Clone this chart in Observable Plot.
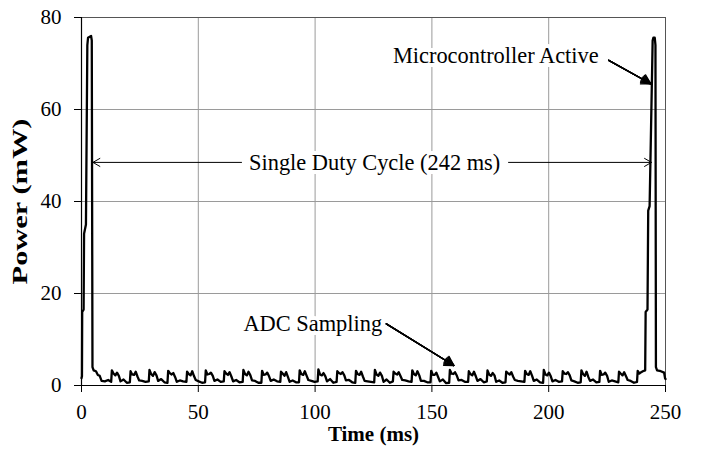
<!DOCTYPE html>
<html>
<head>
<meta charset="utf-8">
<script src="https://cdn.jsdelivr.net/npm/d3@7"></script>
<script src="https://cdn.jsdelivr.net/npm/@observablehq/plot@0.6"></script>
<style>
  html, body { margin: 0; padding: 0; background: white; }
</style>
</head>
<body>
<div id="chart"></div>
<script>
// ---- Data ----
const xTicks = [0, 50, 100, 150, 200, 250];
const yTicks = [0, 20, 40, 60, 80];

// Time (ms) of each trace sample
const timeMs = [
  0, 0.2, 0.3, 0.9, 1.1, 1.9, 2.5, 2.8, 4.1, 4.4, 4.7, 5.2, 6.2, 7.0, 7.8, 8.6, 10.0, 11.4,
  12.7, 13.0, 13.7, 14.5, 15.2, 16.0, 16.7, 18.0, 19.4,
  20.7, 21.0, 21.7, 22.5, 23.2, 24.0, 24.7, 26.0, 27.4,
  28.8, 29.1, 29.8, 30.6, 31.3, 32.1, 32.8, 34.1, 35.5,
  36.8, 37.1, 37.8, 38.6, 39.3, 40.1, 40.8, 42.1, 43.5,
  44.9, 45.2, 45.9, 46.7, 47.4, 48.2, 48.9, 50.2, 51.6,
  52.9, 53.2, 53.9, 54.7, 55.4, 56.2, 56.9, 58.2, 59.6,
  60.9, 61.2, 61.9, 62.7, 63.4, 64.2, 64.9, 66.2, 67.6,
  69.0, 69.3, 70.0, 70.8, 71.5, 72.3, 73.0, 74.3, 75.7,
  77.0, 77.3, 78.0, 78.8, 79.5, 80.3, 81.0, 82.3, 83.7,
  85.1, 85.4, 86.1, 86.9, 87.6, 88.4, 89.1, 90.4, 91.8,
  93.1, 93.4, 94.1, 94.9, 95.6, 96.4, 97.1, 98.4, 99.8,
  101.1, 101.4, 102.1, 102.9, 103.6, 104.4, 105.1, 106.4, 107.8,
  109.2, 109.5, 110.2, 111.0, 111.7, 112.5, 113.2, 114.5, 115.9,
  117.2, 117.5, 118.2, 119.0, 119.7, 120.5, 121.2, 122.5, 123.9,
  125.3, 125.6, 126.3, 127.1, 127.8, 128.6, 129.3, 130.6, 132.0,
  133.3, 133.6, 134.3, 135.1, 135.8, 136.6, 137.3, 138.6, 140.0,
  141.3, 141.6, 142.3, 143.1, 143.8, 144.6, 145.3, 146.6, 148.0,
  149.4, 149.7, 150.4, 151.2, 151.9, 152.7, 153.4, 154.7, 156.1,
  157.4, 157.7, 158.4, 159.2, 159.9, 160.7, 161.4, 162.7, 164.1,
  165.5, 165.8, 166.5, 167.3, 168.0, 168.8, 169.5, 170.8, 172.2,
  173.5, 173.8, 174.5, 175.3, 176.0, 176.8, 177.5, 178.8, 180.2,
  181.5, 181.8, 182.5, 183.3, 184.0, 184.8, 185.5, 186.8, 188.2,
  189.6, 189.9, 190.6, 191.4, 192.1, 192.9, 193.6, 194.9, 196.3,
  197.6, 197.9, 198.6, 199.4, 200.1, 200.9, 201.6, 202.9, 204.3,
  205.7, 206.0, 206.7, 207.5, 208.2, 209.0, 209.7, 211.0, 212.4,
  213.7, 214.0, 214.7, 215.5, 216.2, 217.0, 217.7, 219.0, 220.4,
  221.7, 222.0, 222.7, 223.5, 224.2, 225.0, 225.7, 227.0, 228.4,
  229.8, 230.1, 230.8, 231.6, 232.3, 233.1, 233.8, 235.1, 236.5,
  237.8, 238.1, 238.8, 239.6, 240.3,
  241.3, 241.5, 242.3, 242.6, 243.2, 244.5, 244.8, 245.4, 245.7, 245.9, 246.4, 248.0, 249.4, 249.8, 250
];

// Power (mW) of each trace sample
const powerMw = [
  1.6, 2.0, 16.0, 16.5, 33.0, 35.0, 74.0, 75.6, 76.0, 75.0, 4.0, 3.3, 3.1, 2.3, 2.1, 1.0, 0.9, 1.2,
  0.8, 3.3, 2.6, 2.2, 2.8, 2.1, 0.9, 1.3, 0.6,
  0.7, 3.1, 2.4, 2.3, 3.0, 1.9, 1.1, 1.0, 0.8,
  0.9, 3.4, 2.5, 2.1, 2.9, 2.2, 1.0, 1.4, 0.7,
  0.6, 3.2, 2.7, 2.4, 2.7, 1.8, 0.8, 1.1, 0.9,
  0.8, 3.0, 2.5, 2.2, 3.1, 2.0, 1.2, 0.9, 0.6,
  0.7, 3.3, 2.4, 2.5, 2.8, 2.1, 1.0, 1.3, 0.8,
  0.9, 3.1, 2.6, 2.3, 2.9, 1.9, 0.9, 1.2, 0.7,
  0.8, 3.4, 2.5, 2.2, 3.0, 2.2, 1.1, 1.0, 0.6,
  0.6, 3.2, 2.3, 2.4, 2.8, 2.0, 1.0, 1.3, 0.9,
  0.8, 3.0, 2.6, 2.1, 2.9, 1.8, 0.8, 1.1, 0.7,
  0.7, 3.3, 2.5, 2.3, 3.1, 2.1, 1.2, 1.0, 0.8,
  0.9, 3.5, 2.4, 2.2, 2.7, 2.0, 0.9, 1.4, 0.6,
  0.8, 3.1, 2.7, 2.5, 2.9, 2.2, 1.1, 1.2, 0.7,
  0.6, 3.2, 2.5, 2.3, 3.0, 1.9, 1.0, 0.9, 0.8,
  0.7, 3.4, 2.4, 2.1, 2.8, 2.1, 0.8, 1.3, 0.6,
  0.9, 3.0, 2.6, 2.4, 2.9, 2.0, 1.2, 1.1, 0.9,
  0.8, 3.3, 2.5, 2.2, 3.1, 2.2, 1.0, 1.0, 0.7,
  0.7, 3.2, 2.3, 2.3, 2.8, 1.8, 0.9, 1.3, 0.5,
  0.6, 3.4, 2.6, 2.5, 2.9, 2.1, 1.1, 1.2, 0.8,
  0.8, 3.1, 2.5, 2.2, 3.0, 2.0, 1.0, 1.4, 0.7,
  0.9, 3.3, 2.4, 2.1, 2.7, 2.2, 0.8, 1.1, 0.6,
  0.7, 3.0, 2.7, 2.4, 2.9, 1.9, 1.2, 1.0, 0.9,
  0.8, 3.2, 2.5, 2.3, 3.1, 2.1, 1.0, 1.3, 0.7,
  0.6, 3.4, 2.4, 2.2, 2.8, 2.0, 0.9, 1.2, 0.8,
  0.9, 3.1, 2.6, 2.5, 2.9, 2.2, 1.1, 0.9, 0.6,
  0.7, 3.3, 2.5, 2.1, 3.0, 1.8, 1.0, 1.3, 0.7,
  0.8, 3.2, 2.3, 2.4, 2.8, 2.1, 0.8, 1.1, 0.9,
  0.7, 3.0, 2.6, 2.2, 2.9, 2.0, 1.2, 1.0, 0.6,
  0.8, 3.2, 2.6, 2.9, 3.1,
  3.3, 16.0, 16.5, 38.0, 39.0, 75.0, 75.6, 75.6, 74.0, 4.0, 3.3, 3.1, 2.8, 1.6, 1.4
];

// Annotation texts and their anchor positions (data units)
const noteLabels = ["Single Duty Cycle (242 ms)", "Microcontroller Active", "ADC Sampling"];
const noteTime   = [125.5, 221.4, 128.7];
const notePower  = [48.5, 71.7, 13.5];
const noteAnchor = ["middle", "end", "end"];

// Double-headed "duty cycle" arrow (two halves), open heads
const dutyFromT = [68.5, 182.8];
const dutyToT   = [4.9, 244.0];
const dutyP     = 48.5;

// Callout arrows (filled heads)
const calloutFromT = [225.7, 130.5];
const calloutFromP = [70.7, 13.4];
const calloutToT   = [243.7, 159.4];
const calloutToP   = [65.6, 4.35];

// ---- Build tables ----
const trace = timeMs.map((t, i) => ({t, p: powerMw[i]}));
const notes = noteLabels.map((label, i) => ({label, t: noteTime[i], p: notePower[i], anchor: noteAnchor[i]}));
const duty = dutyFromT.map((t, i) => ({x1: t, x2: dutyToT[i], y1: dutyP, y2: dutyP}));
const callouts = calloutFromT.map((t, i) => ({x1: t, y1: calloutFromP[i], x2: calloutToT[i], y2: calloutToP[i]}));

const serif = '"Liberation Serif", "Times New Roman", Times, serif';

const fanAngles = [60, 48, 36, 24, 12];
const calloutMarks = fanAngles.map(a => Plot.arrow(callouts, {
  x1: "x1", y1: "y1", x2: "x2", y2: "y2",
  stroke: "black", strokeWidth: 1.4, headAngle: a, headLength: 11
}));

const noteMarks = ["middle", "end"].map(anchor => Plot.text(notes.filter(d => d.anchor === anchor), {
  x: "t", y: "p", text: "label", textAnchor: anchor,
  fontSize: 22.4, fill: "black", stroke: "white", strokeWidth: 8, paintOrder: "stroke"
}));

const chart = Plot.plot({
  width: 701,
  height: 451,
  marginLeft: 81,
  marginRight: 36,
  marginTop: 17,
  marginBottom: 66,
  style: {fontFamily: serif, fontSize: "21px", color: "black", background: "white", overflow: "visible"},
  x: {domain: [0, 250]},
  y: {domain: [0, 80]},
  marks: [
    Plot.gridX(xTicks.slice(1, -1), {stroke: "#9a9a9a", strokeOpacity: 1, strokeWidth: 1}),
    Plot.gridY(yTicks.slice(1, -1), {stroke: "#9a9a9a", strokeOpacity: 1, strokeWidth: 1}),
    Plot.frame({stroke: "#555"}),
    Plot.axisX({ticks: xTicks, tickSize: 7, tickPadding: 12, tickFormat: d => String(d), label: null, fontSize: 21}),
    Plot.axisY({ticks: yTicks, tickSize: 7, tickPadding: 13, tickFormat: d => String(d), label: null, fontSize: 21}),
    Plot.ruleX([0], {stroke: "black", strokeWidth: 1.2}),
    Plot.ruleY([0], {stroke: "black", strokeWidth: 1.2}),
    Plot.line(trace, {x: "t", y: "p", stroke: "black", strokeWidth: 2.3, strokeLinejoin: "round", strokeLinecap: "round"}),
    ...noteMarks,
    Plot.arrow(duty, {x1: "x1", y1: "y1", x2: "x2", y2: "y2", stroke: "black", strokeWidth: 1, headAngle: 60, headLength: 12}),
    ...calloutMarks,
    Plot.text(["Time (ms)"], {frameAnchor: "bottom", textAnchor: "middle", dy: 55, fontWeight: "bold", fontSize: 21}),
    Plot.text(["Power (mW)"], {frameAnchor: "left", textAnchor: "middle", lineAnchor: "middle", dx: -61, rotate: -90, fontWeight: "bold", fontSize: 21})
  ]
});

// The reference's vertical axis title is drawn stretched along its length
chart.querySelectorAll("text").forEach(el => {
  if (el.textContent === "Power (mW)") {
    const tr = el.getAttribute("transform") || "";
    el.setAttribute("transform", tr + " scale(1.45,1)");
  }
});

document.getElementById("chart").appendChild(chart);
</script>
</body>
</html>
